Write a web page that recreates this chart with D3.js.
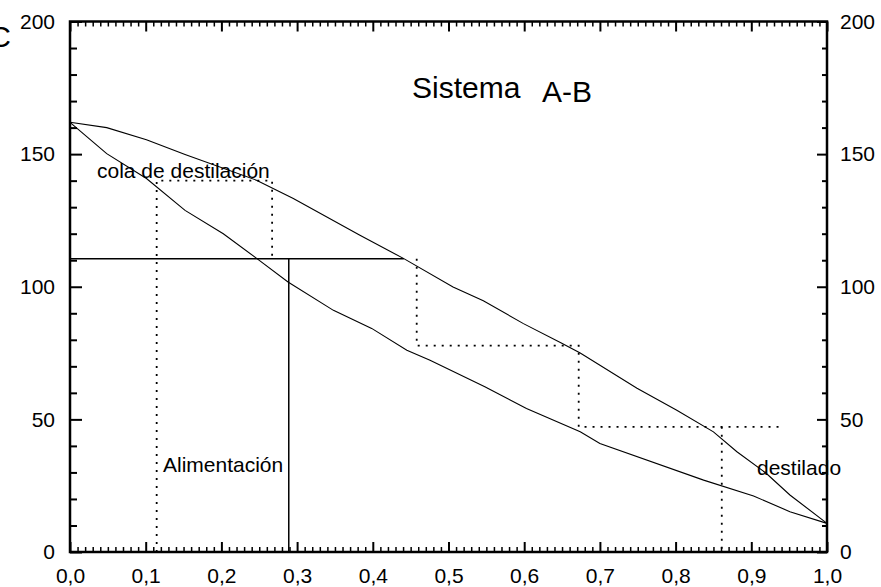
<!DOCTYPE html>
<html>
<head>
<meta charset="utf-8">
<script src="https://cdn.jsdelivr.net/npm/d3@7"></script>
<style>
  html, body { margin: 0; padding: 0; background: #fff; }
  svg { display: block; font-family: "Liberation Sans", Arial, sans-serif; }
</style>
</head>
<body>
<svg id="chart" width="881" height="587"></svg>
<script>
// ---- data ----
const dewX = [0, 0.0485, 0.101, 0.152, 0.247, 0.295, 0.383, 0.441, 0.506, 0.546, 0.599, 0.649, 0.674, 0.749, 0.801, 0.85, 0.881, 0.92, 0.951, 1];
const dewT = [162, 160, 155.4, 149.9, 140.1, 133.3, 119.4, 110.6, 99.9, 94.7, 86.1, 78.8, 75.0, 61.7, 53.5, 45.3, 37.8, 29.6, 21.5, 10.8];
const bubX = [0, 0.0485, 0.101, 0.152, 0.2025, 0.247, 0.288, 0.348, 0.3985, 0.445, 0.4756, 0.548, 0.603, 0.674, 0.700, 0.837, 0.903, 0.951, 1];
const bubT = [162, 150.2, 140.8, 128.8, 120, 110.6, 101.8, 91.1, 84.3, 76.1, 72.3, 62.3, 54.1, 45.3, 40.9, 27.1, 21.1, 15.2, 10.8];

// dotted stepping constructions
const step1X = [0.1145, 0.1145, 0.267, 0.267];
const step1T = [0, 140, 140, 110.6];
const step2X = [0.458, 0.458, 0.672, 0.672, 0.936];
const step2T = [110.6, 77.8, 77.8, 47.2, 47.2];
const step3X = [0.861, 0.861];
const step3T = [47.2, 0];

// solid feed lines
const feedHX = [0, 0.441];
const feedHT = [110.6, 110.6];
const feedVX = [0.289, 0.289];
const feedVT = [110.6, 0];

// axis ticks
const xMajorTicks = [0, 0.1, 0.2, 0.3, 0.4, 0.5, 0.6, 0.7, 0.8, 0.9, 1.0];
const xTickLabels = ["0,0", "0,1", "0,2", "0,3", "0,4", "0,5", "0,6", "0,7", "0,8", "0,9", "1,0"];
const yMajorTicks = [0, 50, 100, 150, 200];
const yTickLabels = ["0", "50", "100", "150", "200"];

// ---- drawing ----
const svg = d3.select("#chart");
const L = 70, R = 827, T = 21.5, B = 552;
const x = d3.scaleLinear().domain([0, 1]).range([L, R]);
const y = d3.scaleLinear().domain([0, 200]).range([B, T]);

const xMinor = d3.range(0, 101).map(i => i / 100).filter(v => Math.round(v * 100) % 10 !== 0);
const yMinor = d3.range(0, 201, 10).filter(v => v % 50 !== 0);

function styleAxis(g, w) {
  g.select(".domain").remove();
  g.selectAll(".tick line").attr("stroke", "#000").attr("stroke-width", w);
  g.selectAll(".tick text").attr("fill", "#000").style("font-size", "21px")
    .style("font-family", '"Liberation Sans", Arial, sans-serif');
}

// bottom
svg.append("g").attr("transform", `translate(0,${B})`)
  .call(d3.axisBottom(x).tickValues(xMinor).tickSize(-5).tickFormat(""))
  .call(g => styleAxis(g, 1.5));
svg.append("g").attr("transform", `translate(0,${B})`)
  .call(d3.axisBottom(x).tickValues(xMajorTicks).tickSize(-10).tickPadding(16)
    .tickFormat((d, i) => xTickLabels[i]))
  .call(g => styleAxis(g, 2));
// top
svg.append("g").attr("transform", `translate(0,${T})`)
  .call(d3.axisTop(x).tickValues(xMinor).tickSize(-5).tickFormat(""))
  .call(g => styleAxis(g, 1.5));
svg.append("g").attr("transform", `translate(0,${T})`)
  .call(d3.axisTop(x).tickValues(xMajorTicks).tickSize(-10).tickFormat(""))
  .call(g => styleAxis(g, 2));
// left
svg.append("g").attr("transform", `translate(${L},0)`)
  .call(d3.axisLeft(y).tickValues(yMinor).tickSize(-7).tickFormat(""))
  .call(g => styleAxis(g, 2));
svg.append("g").attr("transform", `translate(${L},0)`)
  .call(d3.axisLeft(y).tickValues(yMajorTicks).tickSize(-12).tickPadding(15)
    .tickFormat((d, i) => yTickLabels[i]))
  .call(g => styleAxis(g, 2));
// right
svg.append("g").attr("transform", `translate(${R},0)`)
  .call(d3.axisRight(y).tickValues(yMinor).tickSize(-5).tickFormat(""))
  .call(g => styleAxis(g, 2));
svg.append("g").attr("transform", `translate(${R},0)`)
  .call(d3.axisRight(y).tickValues(yMajorTicks).tickSize(-10).tickPadding(13)
    .tickFormat((d, i) => yTickLabels[i]))
  .call(g => styleAxis(g, 2));

// frame
svg.append("rect").attr("x", L).attr("y", T).attr("width", R - L).attr("height", B - T)
  .attr("fill", "none").attr("stroke", "#000").attr("stroke-width", 2.5);

const line = d3.line().x(d => x(d[0])).y(d => y(d[1]));
const zip = (a, b) => a.map((v, i) => [v, b[i]]);

// curves
svg.append("path").datum(zip(dewX, dewT)).attr("d", line)
  .attr("fill", "none").attr("stroke", "#000").attr("stroke-width", 1.1);
svg.append("path").datum(zip(bubX, bubT)).attr("d", line)
  .attr("fill", "none").attr("stroke", "#000").attr("stroke-width", 1.1);

// solid feed lines
[[feedHX, feedHT], [feedVX, feedVT]].forEach(([a, b]) => {
  svg.append("path").datum(zip(a, b)).attr("d", line)
    .attr("fill", "none").attr("stroke", "#000").attr("stroke-width", 1.5);
});

// dotted steps
[[step1X, step1T], [step2X, step2T], [step3X, step3T]].forEach(([a, b]) => {
  svg.append("path").datum(zip(a, b)).attr("d", line)
    .attr("fill", "none").attr("stroke", "#000").attr("stroke-width", 1.8)
    .attr("stroke-dasharray", "2,6");
});

// annotations
const txt = (s, px, py, size) => svg.append("text").attr("x", px).attr("y", py)
  .style("font-size", size + "px").attr("fill", "#000").text(s);
txt("Sistema", 412, 98, 30);
txt("A-B", 542, 102, 30);
txt("cola de destilación", 97, 178, 21);
txt("Alimentación", 163, 472, 21);
txt("destilado", 757, 475, 21);
svg.append("text").attr("x", 11).attr("y", 47).attr("text-anchor", "end")
  .style("font-size", "30px").attr("fill", "#000").text("T, °C");
</script>
</body>
</html>
